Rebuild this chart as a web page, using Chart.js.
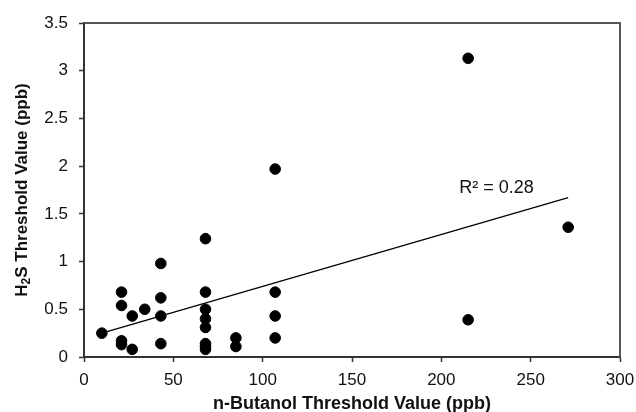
<!DOCTYPE html>
<html>
<head>
<meta charset="utf-8">
<script src="https://cdn.jsdelivr.net/npm/chart.js@4.4.1/dist/chart.umd.min.js"></script>
<style>
  html, body { margin: 0; padding: 0; background: #ffffff; }
  #wrap { width: 636px; height: 412px; }
</style>
</head>
<body>
<div id="wrap"><canvas id="c" width="636" height="412"></canvas></div>
<script>
// Data
const butanolPpb = [10, 21, 21, 21, 21, 27, 27, 34, 43, 43, 43, 43, 68, 68, 68, 68, 68, 68, 68, 68, 85, 85, 107, 107, 107, 107, 215, 215, 271];
const h2sPpb     = [0.25, 0.68, 0.54, 0.17, 0.13, 0.43, 0.08, 0.50, 0.98, 0.62, 0.43, 0.14, 1.24, 0.68, 0.50, 0.40, 0.31, 0.14, 0.11, 0.08, 0.20, 0.11, 1.97, 0.68, 0.43, 0.20, 3.13, 0.39, 1.36];
const trendX = [10, 271];
const trendY = [0.25, 1.67];
const rSquaredLabel = "R² = 0.28";
const rLabelPos = [210, 1.77];
const xTitle = "n-Butanol Threshold Value (ppb)";
// y title pieces: "H" + subscript "2" + "S Threshold Value (ppb)"
const yTitleParts = ["H", "2", "S Threshold Value (ppb)"];

const pts = butanolPpb.map((x, i) => ({ x: x, y: h2sPpb[i] }));
const trend = trendX.map((x, i) => ({ x: x, y: trendY[i] }));

const FONT = "'Liberation Sans', Arial, sans-serif";
const AXIS = '#333333';

const framePlugin = {
  id: 'frame',
  afterDraw(chart) {
    const { ctx, chartArea: a, scales } = chart;
    ctx.save();
    ctx.strokeStyle = '#555555';
    ctx.lineWidth = 2;
    ctx.beginPath();
    ctx.moveTo(a.left, a.top);
    ctx.lineTo(a.right, a.top);
    ctx.lineTo(a.right, a.bottom);
    ctx.stroke();
    ctx.fillStyle = '#111111';
    ctx.font = '18px ' + FONT;
    ctx.textAlign = 'left';
    ctx.textBaseline = 'middle';
    ctx.fillText(rSquaredLabel, scales.x.getPixelForValue(rLabelPos[0]), scales.y.getPixelForValue(rLabelPos[1]));
    ctx.restore();

    // y-axis title with real subscript
    ctx.save();
    const big = 'bold 17px ' + FONT;
    const small = 'bold 12px ' + FONT;
    ctx.font = big; const w0 = ctx.measureText(yTitleParts[0]).width;
    ctx.font = small; const w1 = ctx.measureText(yTitleParts[1]).width;
    ctx.font = big; const w2 = ctx.measureText(yTitleParts[2]).width;
    const total = w0 + w1 + w2;
    ctx.translate(22, (a.top + a.bottom) / 2);
    ctx.rotate(-Math.PI / 2);
    ctx.fillStyle = '#111111';
    ctx.textAlign = 'left';
    ctx.textBaseline = 'middle';
    let x = -total / 2;
    ctx.font = big; ctx.fillText(yTitleParts[0], x, 0); x += w0;
    ctx.font = small; ctx.fillText(yTitleParts[1], x, 5); x += w1;
    ctx.font = big; ctx.fillText(yTitleParts[2], x, 0);
    ctx.restore();
  }
};

new Chart(document.getElementById('c'), {
  type: 'scatter',
  data: {
    datasets: [
      {
        label: 'data',
        data: pts,
        backgroundColor: '#000000',
        borderColor: '#000000',
        pointRadius: 5.3,
        pointHoverRadius: 5.3,
        order: 1
      },
      {
        label: 'trend',
        type: 'line',
        data: trend,
        borderColor: '#000000',
        borderWidth: 1.2,
        pointRadius: 0,
        fill: false,
        order: 2
      }
    ]
  },
  options: {
    responsive: false,
    animation: false,
    events: [],
    layout: { padding: { left: 0, right: 16, top: 23, bottom: 0 } },
    plugins: { legend: { display: false }, tooltip: { enabled: false } },
    scales: {
      x: {
        type: 'linear',
        min: 0, max: 300,
        afterFit(s) { s.height = 55; s.paddingLeft = 0; s.paddingRight = 0; },
        ticks: { stepSize: 50, color: '#111', font: { family: FONT, size: 17 }, padding: 8 },
        grid: { display: true, drawOnChartArea: false, drawTicks: true, tickLength: 5, color: AXIS, tickWidth: 1.5 },
        border: { display: true, color: AXIS, width: 2 },
        title: { display: true, text: xTitle, color: '#111', font: { family: FONT, size: 18, weight: 'bold' }, padding: { top: 0, bottom: -3 } }
      },
      y: {
        type: 'linear',
        min: 0, max: 3.5,
        afterFit(s) { s.width = 84; s.paddingTop = 0; s.paddingBottom = 0; },
        ticks: { stepSize: 0.5, color: '#111', font: { family: FONT, size: 17 }, padding: 11, callback: (v) => String(v) },
        grid: { display: true, drawOnChartArea: false, drawTicks: true, tickLength: 5, color: AXIS, tickWidth: 1.5 },
        border: { display: true, color: AXIS, width: 2 },
        title: { display: false }
      }
    }
  },
  plugins: [framePlugin]
});
</script>
</body>
</html>
